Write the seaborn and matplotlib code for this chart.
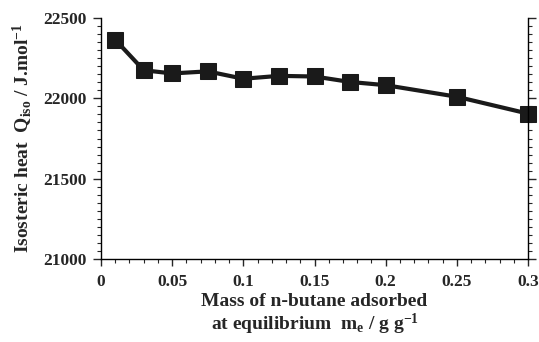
import matplotlib
matplotlib.use("Agg")
import matplotlib.pyplot as plt
import seaborn as sns
import pandas as pd
from matplotlib.ticker import MultipleLocator

mass = [0.01, 0.03, 0.05, 0.075, 0.1, 0.125, 0.15, 0.175, 0.2, 0.25, 0.3]
q_iso = [22365, 22175, 22155, 22168, 22122, 22140, 22136, 22102, 22082, 22010, 21905]
x_ticks = [0, 0.05, 0.1, 0.15, 0.2, 0.25, 0.3]
x_tick_labels = ["0", "0.05", "0.1", "0.15", "0.2", "0.25", "0.3"]
y_ticks = [21000, 21500, 22000, 22500]

sns.set_style("ticks")
plt.rcParams["font.family"] = ["Liberation Serif", "DejaVu Serif"]
plt.rcParams["font.weight"] = "bold"
plt.rcParams["mathtext.fontset"] = "custom"
plt.rcParams["mathtext.rm"] = "Liberation Serif:bold"
plt.rcParams["mathtext.it"] = "Liberation Serif:bold"
plt.rcParams["mathtext.bf"] = "Liberation Serif:bold"

df = pd.DataFrame({"mass": mass, "q": q_iso})

fig = plt.figure(figsize=(5.39, 3.42), dpi=100)
ax = fig.add_axes([0.1874, 0.2427, 0.7922, 0.7046])
sns.lineplot(data=df, x="mass", y="q", ax=ax, color="#1a1a1a", linewidth=3,
             marker="s", markersize=11, markeredgecolor="#1a1a1a", markerfacecolor="#1a1a1a",
             clip_on=False)

ax.set_xlim(0, 0.3)
ax.set_ylim(21000, 22500)
ax.set_xticks(x_ticks)
ax.set_xticklabels(x_tick_labels)
ax.set_yticks(y_ticks)
ax.xaxis.set_minor_locator(MultipleLocator(0.01))
ax.yaxis.set_minor_locator(MultipleLocator(50))

for s in ["left", "right", "bottom"]:
    ax.spines[s].set_visible(True)
    ax.spines[s].set_color("black")
    ax.spines[s].set_linewidth(1.0)
ax.spines["top"].set_visible(False)

ax.tick_params(axis="x", which="major", direction="out", length=5, width=1, labelsize=12.5, pad=6)
ax.tick_params(axis="x", which="minor", direction="out", length=3, width=0.8)
ax.tick_params(axis="y", which="major", direction="out", length=6, width=1, labelsize=12.5,
               right=True, left=True, pad=4)
ax.tick_params(axis="y", which="minor", direction="out", length=3, width=0.8,
               right=True, left=True)
for lbl in ax.get_xticklabels() + ax.get_yticklabels():
    lbl.set_fontweight("bold")

ax.set_xlabel("Mass of n-butane adsorbed\nat equilibrium  m$_{e}$ / g g$^{-1}$",
              fontsize=14, fontweight="bold", linespacing=1.1, labelpad=2)
ax.set_ylabel("Isosteric heat  Q$_{iso}$ / J.mol$^{-1}$", fontsize=14, fontweight="bold", labelpad=6)

fig.savefig("out.png", dpi=100)
